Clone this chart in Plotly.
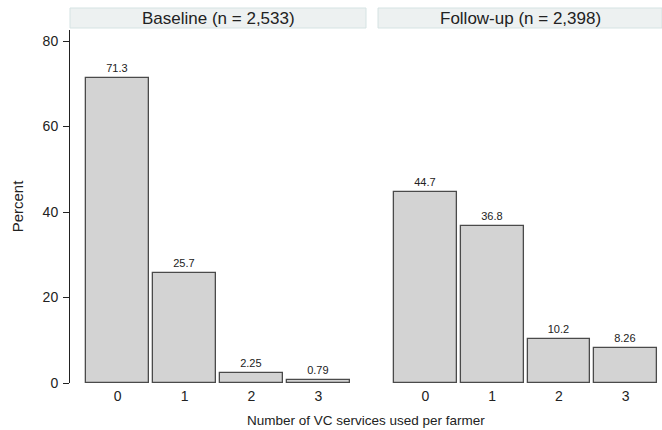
import plotly.graph_objects as go

categories = ["0", "1", "2", "3"]
baseline = [71.3, 25.7, 2.25, 0.79]
followup = [44.7, 36.8, 10.2, 8.26]
baseline_labels = ["71.3", "25.7", "2.25", "0.79"]
followup_labels = ["44.7", "36.8", "10.2", "8.26"]
panel_titles = ["Baseline (n = 2,533)", "Follow-up (n = 2,398)"]
y_ticks = [0, 20, 40, 60, 80]

FONT = "Arial, Liberation Sans, sans-serif"
xpos = [0, 1, 2, 3]

fig = go.Figure()
for vals, labs, xa, ya in [(baseline, baseline_labels, "x", "y"), (followup, followup_labels, "x2", "y2")]:
    fig.add_trace(go.Bar(
        x=xpos, y=vals, text=labs, textposition="outside",
        textfont=dict(size=11, color="#222222", family=FONT),
        cliponaxis=False,
        marker=dict(color="#d3d3d3", line=dict(color="#4a4a4a", width=1.3)),
        width=0.94, xaxis=xa, yaxis=ya, showlegend=False,
    ))

xcommon = dict(tickmode="array", tickvals=xpos, ticktext=categories, showgrid=False,
               zeroline=False, showline=False, ticks="", tickfont=dict(size=14, color="#222", family=FONT),
               ticklabelstandoff=3)

fig.update_layout(
    width=662, height=430,
    margin=dict(l=70, r=0, t=30, b=47, autoexpand=False),
    paper_bgcolor="white", plot_bgcolor="white",
    font=dict(family=FONT, color="#222"),
    bargap=0,
    xaxis=dict(domain=[0, 0.5], range=[-0.71, 3.71], **xcommon),
    xaxis2=dict(domain=[0.5203, 1.0], range=[-0.71, 3.545], anchor="y2", **xcommon),
    yaxis=dict(range=[0, 82.6], tickmode="array", tickvals=y_ticks, showgrid=False,
               zeroline=False, showline=True, linecolor="#222", linewidth=1,
               ticks="outside", ticklen=6, tickcolor="#222", ticklabelstandoff=2,
               tickfont=dict(size=14, color="#222", family=FONT),
               automargin=False,
               title=dict(text="Percent", font=dict(size=15, color="#222", family=FONT), standoff=15)),
    yaxis2=dict(range=[0, 82.6], anchor="x2", showgrid=False, zeroline=False,
                showline=False, showticklabels=False, ticks=""),
)

for xr, t in [("x", panel_titles[0]), ("x2", panel_titles[1])]:
    fig.add_shape(type="rect", xref=f"{xr} domain", yref="paper", x0=0, x1=1,
                  y0=1.0 + 2/353, y1=1.0 + 22/353,
                  fillcolor="#edf1f1", line=dict(color="#d5e3e3", width=1), layer="below")
    fig.add_annotation(xref=f"{xr} domain", yref="paper", x=0.5, y=1.0 + 12/353,
                       text=t, showarrow=False, font=dict(size=17, color="#222", family=FONT),
                       yanchor="middle")

fig.add_annotation(xref="paper", yref="paper", x=0.5, y=-37/353, text="Number of VC services used per farmer",
                   showarrow=False, font=dict(size=13.5, color="#222", family=FONT), yanchor="middle")

fig.write_html("out.html", config={"displayModeBar": False},
               post_script="document.body.style.margin='0';document.body.style.padding='0';")
